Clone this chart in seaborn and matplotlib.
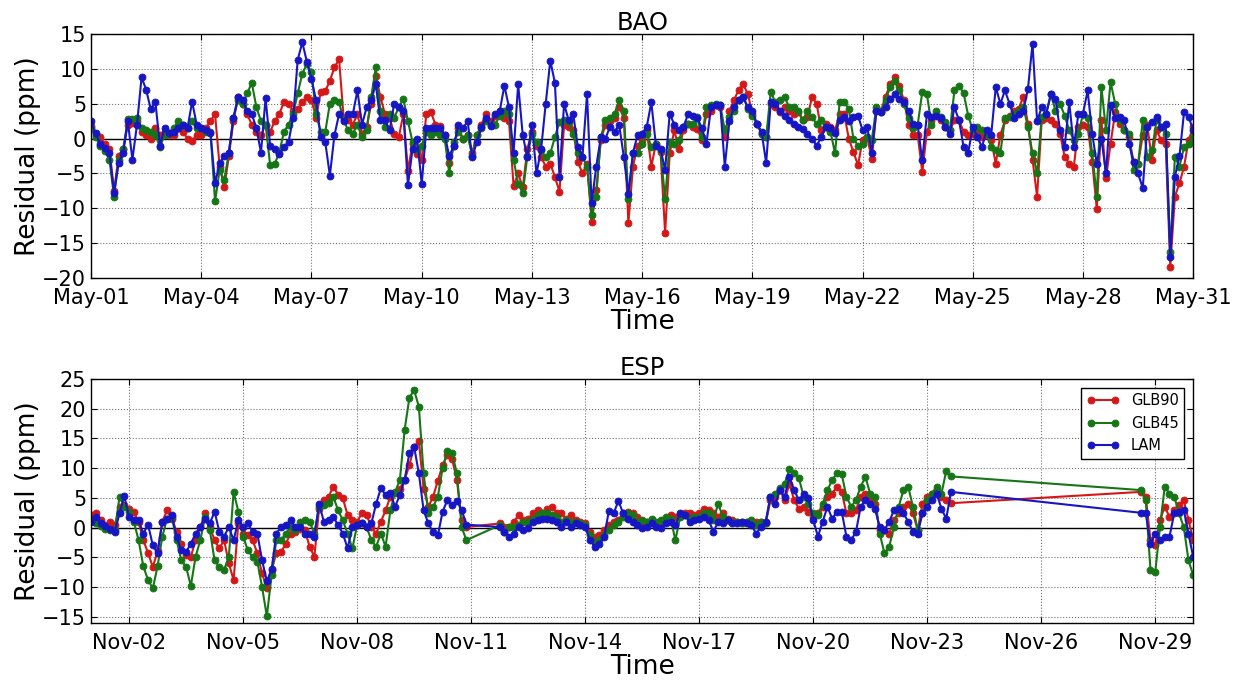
import pandas as pd
import matplotlib
matplotlib.use("Agg")
import matplotlib.pyplot as plt
import matplotlib.dates as mdates
import seaborn as sns

# BAO, May, residuals every 3 hours (ppm), May-01 00:00 .. May-31 00:00
bao_glb90 = [
    1.8, 0.5, 0.3, -0.8, -1.5, -7.5, -2.5, -1.5,
    2.0, 2.3, 2.5, 1.0, 0.5, 0.0, 1.5, 0.5,
    1.0, 0.5, 0.5, 1.5, 1.0, 0.0, -0.3, 0.5,
    0.5, 1.5, 2.5, 3.5, -4.0, -7.0, -2.5, 2.5,
    6.0, 5.0, 3.5, 2.0, 1.0, 0.5, 2.0, 1.0,
    2.5, 3.5, 5.3, 5.0, 4.0, 4.2, 5.2, 5.9,
    5.5, 3.0, 6.7, 6.8, 8.3, 10.2, 11.4, 3.0,
    2.6, 2.0, 3.5, 0.7, 1.6, 5.0, 9.0, 6.0,
    3.5, 3.0, 0.7, 0.2, 3.5, -4.6, -0.7, -2.2,
    -3.0, 3.5, 3.8, 2.0, 1.8, 0.5, -3.5, -1.0,
    1.5, 0.0, 0.5, -2.0, 0.5, 2.0, 3.5, 2.5,
    3.3, 4.0, 3.0, 2.5, -6.8, -5.0, -7.0, -1.5,
    1.0, -1.0, -2.6, -4.0, -3.6, -5.5, -7.6, 2.0,
    1.7, 1.2, -3.3, -5.0, -3.6, -11.9, -7.4, -0.2,
    2.0, 2.5, 3.0, 4.5, 3.0, -12.1, -4.0, -1.0,
    -0.2, 1.2, -4.0, -0.7, -1.9, -13.5, -2.1, 1.2,
    -1.5, 1.2, 2.1, 1.7, 1.4, -0.2, 3.6, 4.0,
    4.8, 4.5, 0.2, 4.0, 5.5, 7.0, 7.8, 6.4,
    3.6, 2.1, 0.7, 0.2, 5.0, 4.5, 3.8, 4.5,
    4.0, 3.6, 3.8, 2.6, 3.1, 6.0, 5.0, 1.2,
    2.1, 1.7, 1.2, 3.6, 3.5, 0.0, -1.9, -3.8,
    -0.2, 0.2, -2.9, 4.0, 4.0, 6.0, 7.8, 8.8,
    7.5, 5.5, 2.0, 0.5, 0.5, -4.8, 1.0, 2.5,
    3.6, 2.6, 1.7, 1.2, 2.6, 2.6, 1.0, 0.5,
    0.7, 1.2, 0.2, 0.5, -0.2, -3.6, 0.5, 2.6,
    3.3, 4.0, 4.3, 6.0, 2.1, -3.0, -8.3, 2.6,
    2.9, 2.6, 2.1, 0.7, -2.6, -3.6, -4.0, 1.7,
    1.9, 1.7, -3.3, -10.1, 2.6, -5.7, -0.7, 3.8,
    2.1, 1.2, 0.2, -3.3, -3.6, 0.5, 1.9, -3.1,
    1.2, -0.2, -0.7, -18.4, -8.3, -6.4, -4.0, -0.2,
    1.7,
]
bao_glb45 = [
    1.5, 0.3, -1.0, -1.8, -3.0, -8.3, -3.0, -1.5,
    2.8, 2.8, 3.0, 1.5, 1.2, 1.0, 0.5, -1.2,
    0.5, 0.8, 1.5, 2.5, 2.0, 1.5, 2.5, 1.5,
    1.5, 1.0, 1.0, -9.0, -4.5, -6.0, -2.0, 3.0,
    5.5, 5.0, 6.5, 8.0, 4.5, 2.5, 2.0, -3.8,
    -3.6, -2.0, 1.0, 2.0, 3.5, 6.5, 9.3, 10.7,
    9.5, 3.5, 1.0, 1.0, 5.0, 5.5, 5.2, 2.6,
    1.2, 0.7, 2.0, 0.2, 1.2, 6.0, 10.2, 4.0,
    1.6, 3.5, 3.0, 4.5, 5.7, 2.5, -0.5, -1.7,
    -1.0, 1.0, 0.5, 1.0, 0.5, 0.0, -5.0, -0.5,
    1.0, 0.0, 0.5, -2.5, 0.5, 1.5, 2.5, 2.0,
    2.0, 3.3, 4.0, 3.5, -3.0, -6.5, -7.8, -2.5,
    0.7, -0.5, -1.7, -2.6, -2.1, 0.2, 2.4, 2.6,
    2.4, 0.7, -2.1, -2.6, -4.0, -11.0, -8.3, 0.2,
    2.6, 3.0, 3.6, 5.5, 4.0, -8.6, -2.1, -2.0,
    -0.7, 0.7, -1.2, -0.7, -1.7, -8.6, -0.5, -0.7,
    -0.2, 1.7, 2.1, 2.1, 3.1, 0.2, 4.5, 4.8,
    5.0, 4.8, 1.2, 3.1, 4.0, 5.5, 6.0, 4.3,
    3.3, 2.1, 0.7, 0.2, 6.7, 5.2, 5.5, 6.0,
    4.5, 4.5, 4.0, 2.6, 4.0, 3.1, 2.1, 2.6,
    1.7, 1.0, -2.1, 5.2, 5.2, 4.3, 0.0, -1.0,
    -0.7, 0.2, -0.2, 4.5, 3.8, 5.5, 7.4, 8.3,
    7.0, 5.0, 3.0, 1.5, 2.0, 6.7, 6.4, 2.0,
    4.0, 3.1, 2.4, 1.2, 6.9, 7.6, 6.5, 3.3,
    1.2, 1.7, 1.2, 0.7, -1.2, -1.7, -2.1, 3.0,
    3.1, 3.6, 4.0, 4.5, 1.7, -2.1, -5.0, 3.1,
    3.6, 6.4, 4.0, 5.0, 3.3, 1.2, -0.2, 0.7,
    3.6, 3.0, -2.1, -8.3, 7.4, 1.2, 8.1, 5.0,
    2.6, 1.2, 0.7, -4.5, -3.6, 2.6, -2.6, -1.7,
    2.6, 1.7, 0.7, -16.2, -2.6, -4.0, -1.2, -0.7,
    0.2,
]
bao_lam = [
    2.5, 0.8, -0.8, -1.3, -2.0, -7.8, -3.5, -2.0,
    2.5, -3.0, 2.0, 8.8, 7.0, 4.2, 5.3, -1.0,
    1.5, 0.8, 1.0, 1.5, 2.0, 1.5, 5.3, 2.0,
    1.5, 1.2, 0.8, -6.4, -3.5, -2.5, -2.0, 3.0,
    6.0, 5.5, 4.0, 3.5, 1.5, -2.0, 5.8, -1.0,
    -1.5, -2.2, -1.2, -0.5, 3.0, 11.3, 13.8, 11.0,
    8.5, 5.5, 0.2, -0.5, -5.3, 0.5, 3.5, 2.5,
    3.5, 3.5, 6.9, 2.0, 4.5, 5.5, 7.8, 2.6,
    2.6, 1.2, 5.0, 4.5, 4.0, -6.7, -1.5, 0.0,
    -6.5, 1.5, 1.5, 1.5, 1.5, 0.5, -2.5, -1.0,
    2.0, 1.5, 2.5, -2.7, -0.5, 1.6, 3.0, 1.8,
    3.5, 4.0, 7.6, 4.5, -2.0, 7.8, 0.5, -2.7,
    1.9, -5.0, -1.5, 5.0, 11.2, 8.0, -5.5, 5.0,
    2.6, 3.5, -1.2, -2.6, 6.4, -9.3, -4.0, 0.2,
    0.0, 1.7, 1.0, 2.0, -2.6, -7.9, -2.0, 0.5,
    0.7, 1.7, 5.2, -1.0, -1.5, -4.5, 3.6, 2.0,
    1.2, 1.7, 3.5, 3.2, 3.0, 1.5, -0.7, 4.5,
    4.8, 4.8, -4.0, 2.5, 4.5, 5.5, 6.0, 4.5,
    4.0, 2.1, 1.0, -3.5, 5.2, 5.0, 4.0, 3.3,
    2.6, 2.1, 1.7, 1.4, 0.7, 0.0, -1.0, 0.2,
    1.7, 1.5, 0.8, 2.6, 3.1, 2.5, 3.1, 3.3,
    1.2, 1.7, -2.0, 4.0, 3.8, 4.5, 5.7, 6.4,
    5.7, 5.2, 4.0, 2.1, 1.9, -3.1, 3.5, 3.1,
    3.3, 2.9, 1.7, 0.7, 4.5, 2.6, -1.2, -2.0,
    1.7, 0.2, -1.2, 1.2, 0.5, 7.4, 5.0, 6.9,
    5.0, 3.0, 3.5, 4.0, 7.1, 13.6, 2.5, 4.5,
    3.6, 6.4, 5.7, 1.2, -1.2, 5.2, -1.2, 3.6,
    3.6, 6.9, 0.7, -3.6, 0.0, -5.0, 4.8, 3.0,
    3.1, 2.6, -0.7, -3.3, -5.0, -7.1, 1.7, 2.4,
    3.1, 1.7, 2.1, -17.0, -5.5, -2.5, 3.8, 3.1,
    1.2,
]

# ESP, November, residuals every 3 hours in three runs (gaps in between)
esp_runs = [("2015-11-01 00:00", 80), ("2015-11-11 18:00", 96), ("2015-11-28 15:00", 12)]
esp_glb90 = [
    2.1, 2.4, 1.2, 0.4, 1.0, 0.4, 3.5, 3.8,
    3.2, 2.7, 1.0, -2.1, -4.3, -6.6, -4.0, 1.0,
    2.9, 1.5, -0.7, -2.7, -4.6, -4.9, -2.1, 0.1,
    2.4, 0.1, -2.1, -3.5, -2.1, -6.0, -8.8, 0.7,
    -1.0, -1.3, -2.1, -4.3, -7.7, -10.2, -7.1, -4.3,
    -4.1, -2.7, -1.0, -0.7, -0.2, -0.4, -3.2, -4.9,
    3.2, 4.6, 5.2, 6.9, 5.5, 4.9, 2.1, 1.2,
    1.0, 2.4, 2.1, 0.1, -1.0, 1.0, 2.9, 5.2,
    5.8, 6.5, 8.0, 10.5, 13.6, 14.5, 6.5, 3.5,
    5.2, 7.9, 10.5, 12.2, 11.5, 8.0, 1.2, 0.1,
    0.7, 0.1,
    0.1, 1.0, 2.1, 1.3, 1.5, 2.4, 2.9, 2.4,
    3.2, 3.5, 2.4, 2.4, 1.5, 2.1, 1.3, 1.0,
    0.7, -0.7, -1.5, -1.3, -0.4, 0.4, 1.0, 1.3,
    2.4, 2.7, 2.4, 1.8, 1.0, 1.0, 1.3, 0.7,
    1.0, 1.5, 2.1, 1.8, 2.1, 2.4, 2.4, 2.1,
    2.4, 3.2, 2.9, 2.4, 1.8, 2.4, 1.5, 1.3,
    1.0, 1.0, 1.0, 0.7, 1.0, 1.0, 0.7, 4.6,
    5.2, 6.3, 4.6, 7.4, 4.6, 3.2, 3.5, 2.7,
    1.8, 2.4, 3.5, 5.2, 5.7, 6.9, 6.0, 2.4,
    2.4, 2.9, 5.2, 5.7, 4.6, 4.0, -0.4, -0.4,
    -1.0, 1.3, 2.4, 3.5, 4.0, 2.4, -0.4, 4.0,
    5.2, 5.7, 6.3, 5.2, 4.6, 4.1,
    6.0, 5.2, -2.1, -3.0, 1.3, 3.5, 1.8, 2.9, 3.8, 4.6, 1.3, -2.1,
]
esp_glb45 = [
    1.2, 0.7, 0.2, -0.2, -0.4, -0.4, 5.2, 3.5,
    2.7, 1.0, -2.1, -6.5, -8.8, -10.2, -6.5, -1.5,
    1.5, 1.8, -2.1, -5.5, -6.6, -9.8, -4.9, -2.1,
    1.8, -0.4, -5.5, -6.6, -7.1, -4.9, 6.0, 2.7,
    -1.5, -3.8, -4.9, -5.7, -10.0, -14.9, -8.0, -2.1,
    -2.1, -1.0, 0.1, -0.4, 1.0, 1.2, 1.0, -1.0,
    3.5, 3.8, 4.1, 5.2, 2.9, 1.2, -1.0, -3.5,
    0.4, 0.7, 0.1, -2.1, -3.2, -1.0, -3.2, 2.9,
    6.0, 8.0, 16.4, 21.8, 23.1, 20.3, 9.1, 2.4,
    3.5, 5.2, 10.0, 12.8, 12.5, 9.1, 0.1, -2.1,
    0.4, -0.7,
    0.1, 0.1, 0.4, 1.0, 1.0, 1.5, 2.1, 2.4,
    2.4, 2.1, 1.8, 1.0, 1.3, 1.0, 1.0, 0.7,
    0.4, -1.3, -2.4, -2.1, -1.3, -0.4, 0.4, 1.0,
    1.8, 2.4, 2.1, 1.0, 1.3, 1.0, 1.5, 1.0,
    1.3, 1.8, 1.5, -2.1, 1.8, 2.1, 1.5, 1.8,
    1.8, 2.4, 2.4, 1.3, 4.0, 1.8, 1.3, 1.0,
    1.0, 0.7, 1.0, 1.3, 0.4, 1.0, 0.7, 5.2,
    5.7, 6.6, 7.4, 9.8, 9.1, 8.3, 5.2, 4.0,
    2.4, 2.1, 4.0, 6.3, 8.0, 9.1, 9.0, 5.2,
    3.5, 4.6, 6.9, 8.5, 5.7, 5.2, -1.0, -4.3,
    -3.2, 0.1, 3.5, 6.3, 6.9, 3.5, -0.4, 2.4,
    4.6, 5.7, 6.9, 5.7, 9.5, 8.6,
    6.3, 4.6, -7.1, -7.5, 0.1, 6.9, 5.7, 5.2, 2.4, 0.1, -5.5, -8.0,
]
esp_lam = [
    1.0, 1.8, 0.7, 0.2, -0.2, -0.7, 2.4, 5.3,
    1.8, 1.2, 1.2, -1.0, 0.5, -3.0, -4.3, 1.0,
    1.5, 2.1, -1.5, -3.8, -4.1, -2.7, -1.0, 0.1,
    1.5, 0.7, 2.7, -0.7, -1.5, 0.1, -2.1, 1.2,
    0.1, 0.7, -0.7, -1.0, -5.5, -9.0, -7.0, -1.0,
    0.1, 0.4, 1.2, 0.1, 0.1, -1.0, -1.0, -1.5,
    4.0, 1.0, 1.2, 1.8, 0.4, -1.0, -3.5, 0.1,
    0.4, 0.7, 0.1, 0.7, 4.0, 6.6, 5.5, 5.8,
    3.5, 5.5, 8.0, 12.5, 13.6, 9.1, 2.9, 0.7,
    -0.8, -1.3, 2.7, 4.6, 3.8, 4.5, 3.0, 0.5,
    0.1, -0.7,
    -1.5, -1.0, 0.1, -0.4, -0.1, 1.0, 1.3, 1.5,
    1.5, 1.3, 1.0, 0.1, 1.0, 0.1, 0.7, 0.4,
    0.1, -2.1, -3.2, -2.7, -1.5, 2.8, 2.4, 4.5,
    2.4, 1.5, 1.0, 0.4, -0.1, 0.1, 0.7, 0.1,
    -0.1, 0.7, 1.0, 0.4, 2.4, 2.1, 1.0, 1.3,
    1.5, 1.8, 1.3, -0.7, 1.0, 0.7, 1.3, 0.7,
    0.7, 1.0, 0.7, 0.4, -1.0, 0.1, 1.0, 5.2,
    4.0, 6.3, 5.2, 8.5, 6.3, 4.6, 5.7, 4.9,
    1.3, -1.5, 1.0, 3.5, 1.5, 2.7, 2.7, -1.5,
    -2.1, -0.7, 3.5, 4.6, 4.0, 3.2, 0.1, -0.4,
    1.0, 2.9, 3.2, 2.4, 1.0, -0.7, -1.0, 2.4,
    3.5, 4.6, 5.7, 3.2, 1.5, 6.0,
    2.5, 2.4, -2.7, -1.0, -2.1, -1.5, -1.5, 2.4, 2.7, 3.0, -1.0, -5.0,
]

models = ["GLB90", "GLB45", "LAM"]
colors = {"GLB90": "#d41818", "GLB45": "#167616", "LAM": "#1616c4"}

bao_time = pd.date_range("2015-05-01 00:00", periods=len(bao_lam), freq="3h")
esp_time = pd.DatetimeIndex([])
for start, n in esp_runs:
    esp_time = esp_time.append(pd.date_range(start, periods=n, freq="3h"))

bao = pd.DataFrame({"time": bao_time, "GLB90": bao_glb90, "GLB45": bao_glb45, "LAM": bao_lam})
esp = pd.DataFrame({"time": esp_time, "GLB90": esp_glb90, "GLB45": esp_glb45, "LAM": esp_lam})

plt.rcParams["font.family"] = ["DejaVu Sans"]
fig = plt.figure(figsize=(12.44, 6.8), dpi=100)
ax1 = fig.add_axes([0.0732, 0.591, 0.886, 0.359])
ax2 = fig.add_axes([0.0732, 0.084, 0.886, 0.359])

panels = [
    (ax1, bao, "BAO", ("2015-05-01", "2015-05-31"), (-20, 15), range(1, 32, 3), range(-20, 16, 5)),
    (ax2, esp, "ESP", ("2015-11-01", "2015-11-30"), (-16, 25), range(2, 31, 3), range(-15, 26, 5)),
]

for ax, df, title, xl, yl, days, yt in panels:
    for m in models:
        sns.lineplot(data=df, x="time", y=m, ax=ax, color=colors[m], marker="o",
                     markersize=5, markeredgecolor=colors[m], markeredgewidth=0.6,
                     linewidth=1.5, estimator=None, errorbar=None, label=m, legend=False)
    ax.axhline(0, color="black", linewidth=1, zorder=1)
    ax.set_xlim(pd.Timestamp(xl[0]), pd.Timestamp(xl[1]))
    ax.set_ylim(*yl)
    ax.set_yticks(list(yt))
    ax.xaxis.set_major_locator(mdates.DayLocator(bymonthday=list(days)))
    ax.xaxis.set_major_formatter(mdates.DateFormatter("%b-%d"))
    ax.grid(True, linestyle=":", color="0.45", linewidth=0.8)
    ax.set_axisbelow(True)
    for s in ax.spines.values():
        s.set_color("black")
        s.set_linewidth(1.0)
    ax.tick_params(direction="in", top=True, right=True, length=4, labelsize=15)
    ax.tick_params(axis="x", pad=7)
    ax.set_title(title, fontsize=17.5, pad=3)
    ax.set_xlabel("Time", fontsize=19, labelpad=1)
    ax.set_ylabel("Residual (ppm)", fontsize=19, labelpad=1)

leg = ax2.legend(loc="upper right", fontsize=10.5, numpoints=2, fancybox=False,
                 edgecolor="black", framealpha=1, borderaxespad=0.6, handlelength=2.2)
leg.get_frame().set_linewidth(1.0)

fig.savefig("out.png", dpi=100)
